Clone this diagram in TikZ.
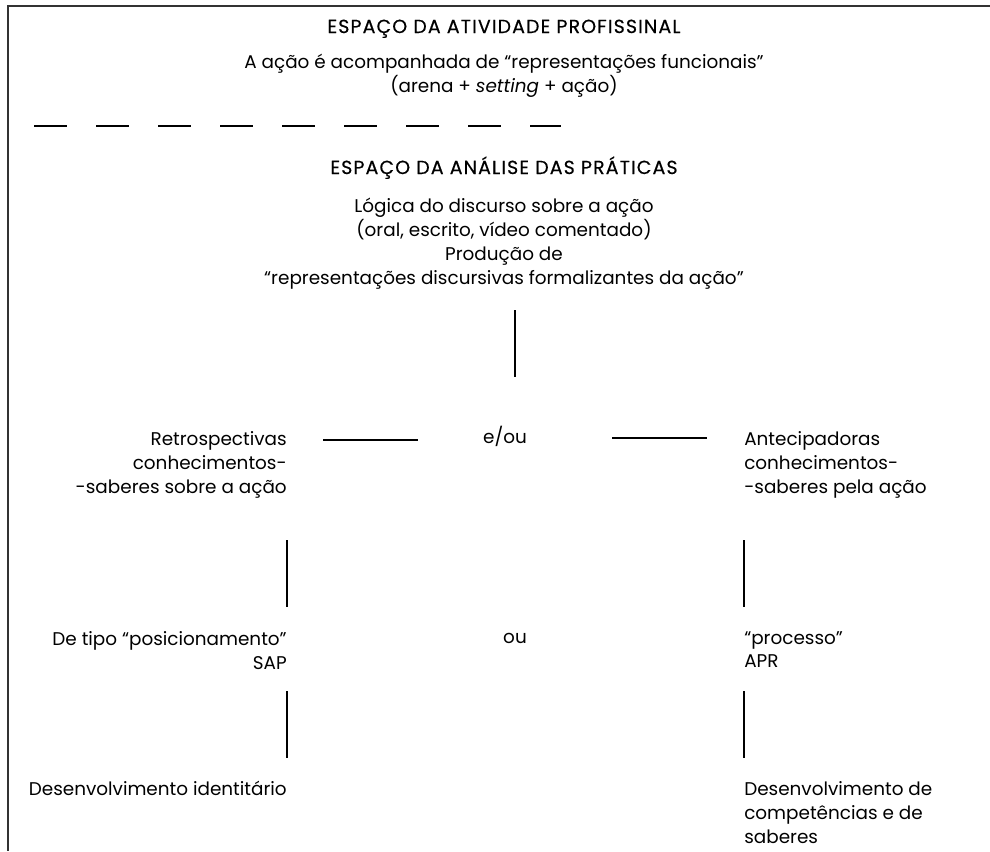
\documentclass[tikz,border=0pt]{standalone}
\usepackage{fontspec}
\setmainfont{Poppins}
\newfontfamily\ttlfont{Poppins}[LetterSpace=6,FakeBold=0.4]
\usetikzlibrary{positioning}

\begin{document}
\begin{tikzpicture}[x=0.75pt,y=-0.75pt]
\tikzstyle{txt}=[inner sep=0pt,font=\fontsize{13.8}{17.9}\selectfont]
\tikzstyle{ttl}=[inner sep=0pt,font=\ttlfont\fontsize{14.2}{17.9}\selectfont]
\tikzstyle{ln}=[line width=1.9pt]
\useasboundingbox (0,0) rectangle (990,851);
% moldura
\draw[line width=1.1pt,black!80] (990,6) -- (8,6) -- (8,851);
% espaco da atividade
\node[ttl,anchor=base] (esp1) at (504,33) {ESPAÇO DA ATIVIDADE PROFISSINAL};
\node[txt,anchor=north,align=center] (acao) at (504,54) {A ação é acompanhada de “representações funcionais”\\(arena + \textit{setting} + ação)};
\coordinate (d1) at (34,126);
\coordinate (d2) at (561,126);
\draw[ln,dash pattern=on 24.75pt off 21.75pt] (d1) -- (d2);
% espaco da analise
\node[ttl,anchor=base] (esp2) at (504,174) {ESPAÇO DA ANÁLISE DAS PRÁTICAS};
\node[txt,anchor=north,align=center] (logica) at (504,198) {Lógica do discurso sobre a ação\\(oral, escrito, vídeo comentado)\\Produção de\\“representações discursivas formalizantes da ação”};
\node[txt,anchor=base] (eou) at (505,443) {e/ou};
\node[txt,anchor=north east,align=right] (retro) at (287,431) {Retrospectivas\\conhecimentos-\\-saberes sobre a ação};
\node[txt,anchor=north west,align=left] (antec) at (744,431) {Antecipadoras\\conhecimentos-\\-saberes pela ação};
\node[txt,anchor=base] (ou) at (515,643) {ou};
\node[txt,anchor=north east,align=right] (tipo) at (287,631) {De tipo “posicionamento”\\SAP};
\node[txt,anchor=north west,align=left] (proc) at (744,631) {“processo”\\APR};
\node[txt,anchor=north east] (ident) at (287,781) {Desenvolvimento identitário};
\node[txt,anchor=north west,align=left] (compet) at (744,781) {Desenvolvimento de\\competências e de\\saberes};
% ligacoes
\coordinate (v1a) at (515,310);
\coordinate (v1b) at (515,377);
\coordinate (h1a) at (323,440);
\coordinate (h1b) at (418,440);
\coordinate (h2a) at (612,438);
\coordinate (h2b) at (707,438);
\draw[ln] (v1a) -- (v1b);
\draw[ln] (h1a) -- (h1b);
\draw[ln] (h2a) -- (h2b);
\foreach \x in {287,744} {
  \draw[ln] (\x,540) -- (\x,607);
  \draw[ln] (\x,691) -- (\x,758);
}
\end{tikzpicture}
\end{document}
